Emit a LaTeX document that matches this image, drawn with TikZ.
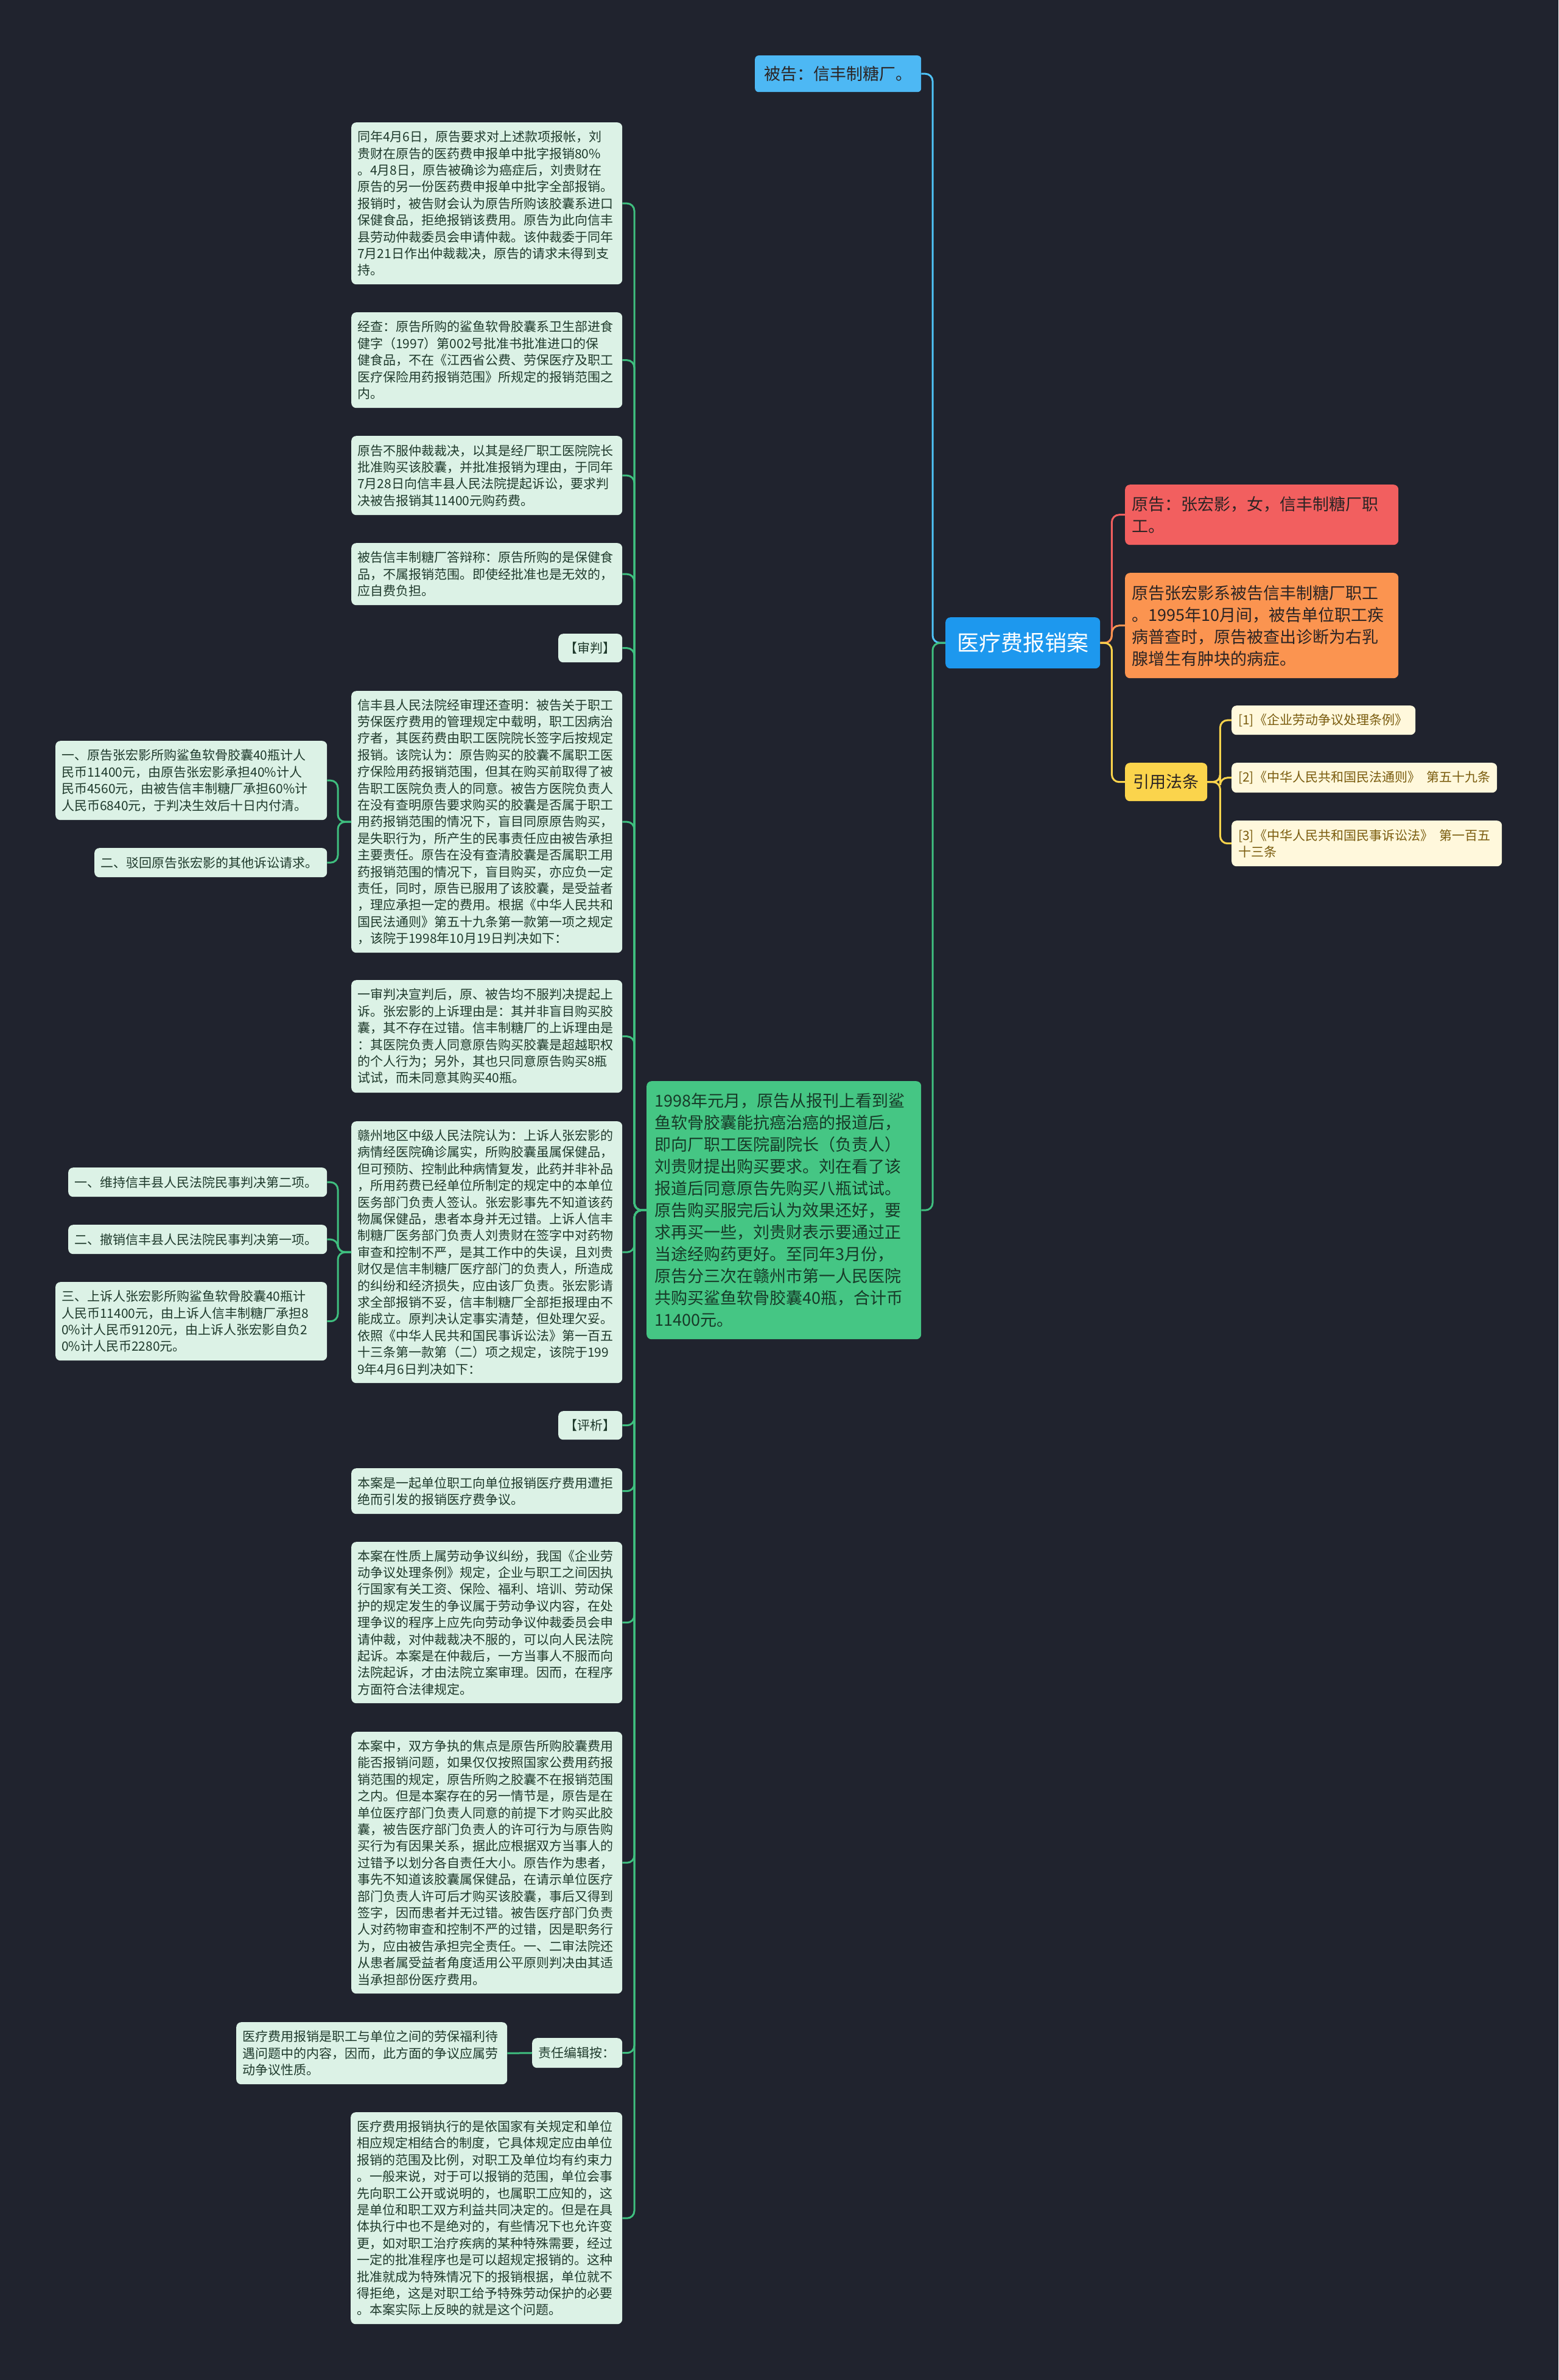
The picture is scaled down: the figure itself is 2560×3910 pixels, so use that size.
\documentclass[tikz,border=0pt]{standalone}
\usepackage{fontspec}
\newfontfamily\cjk{Noto Sans CJK SC}
\definecolor{bgc}{HTML}{20232E}
\definecolor{mint}{HTML}{DCF2E6}
\definecolor{mtext}{HTML}{1F3A2C}
\definecolor{gline}{HTML}{3FBF7F}
\definecolor{gfill}{HTML}{45C684}
\definecolor{gtext}{HTML}{173A28}
\definecolor{rootc}{HTML}{1D98EE}
\definecolor{bgfill}{HTML}{4DB8F4}
\definecolor{bline}{HTML}{4FC3F7}
\definecolor{redc}{HTML}{F25F5F}
\definecolor{orangec}{HTML}{FB9450}
\definecolor{yellowc}{HTML}{FBD44C}
\definecolor{reffill}{HTML}{FFF8DC}
\definecolor{reftext}{HTML}{7A5C0E}
\definecolor{darktext}{HTML}{2B2424}
\begin{document}
\begin{tikzpicture}[x=1pt,y=-1pt,
  base/.style={anchor=north west, rounded corners=8pt, inner ysep=0pt, align=left},
  smallf/.style={font=\cjk\fontsize{21pt}{27.4pt}\selectfont},
  bigf/.style={font=\cjk\fontsize{27pt}{36pt}\selectfont},
  mintbox/.style={base, smallf, fill=mint, text=mtext, inner xsep=10pt},
  refbox/.style={base, smallf, fill=reffill, text=reftext, inner xsep=11pt},
  conn/.style={line width=3pt, rounded corners=12pt},
]
\useasboundingbox (0,0) rectangle (2560,3910);
\fill[bgc] (0,0) rectangle (2560,3910);

% ---------- central and right side ----------
\node[base, font=\cjk\fontsize{36pt}{44pt}\selectfont, fill=rootc, text=white, align=center,
  minimum width=254pt, minimum height=84pt, inner xsep=0pt] (root) at (1553,1014) {医疗费报销案};

\node[base, bigf, fill=bgfill, text=darktext, align=center, rounded corners=6pt,
  minimum width=273pt, minimum height=60pt, inner xsep=0pt] (bg) at (1240,91) {被告：信丰制糖厂。};

\node[base, bigf, fill=redc, text=darktext, inner xsep=11pt, text width=427pt, minimum height=99pt] (r1) at (1848,796)
{原告：张宏影，女，信丰制糖厂职\\工。};

\node[base, bigf, fill=orangec, text=darktext, inner xsep=11pt, text width=427pt, minimum height=173pt] (r2) at (1848,941)
{原告张宏影系被告信丰制糖厂职工\\。1995年10月间，被告单位职工疾\\病普查时，原告被查出诊断为右乳\\腺增生有肿块的病症。};

\node[base, bigf, fill=yellowc, text=darktext, align=center, minimum width=135pt, minimum height=63pt, inner xsep=0pt] (law) at (1848,1253) {引用法条};

\node[refbox, text width=280pt, minimum height=48pt] (ref1) at (2023,1159) {[1]《企业劳动争议处理条例》};
\node[refbox, text width=414pt, minimum height=49pt] (ref2) at (2023,1253) {\mbox{[2]《中华人民共和国民法通则》\hspace{0.5em}第五十九条}};
\node[refbox, text width=422pt, minimum height=75pt] (ref3) at (2023,1348) {\mbox{[3]《中华人民共和国民事诉讼法》\hspace{0.5em}第一百五}\\十三条};

\node[base, bigf, fill=gfill, text=gtext, inner xsep=13pt, text width=425pt, minimum height=424pt] (green) at (1062,1776)
{1998年元月，原告从报刊上看到鲨\\鱼软骨胶囊能抗癌治癌的报道后，\\即向厂职工医院副院长（负责人）\\刘贵财提出购买要求。刘在看了该\\报道后同意原告先购买八瓶试试。\\原告购买服完后认为效果还好，要\\求再买一些，刘贵财表示要通过正\\当途经购药更好。至同年3月份，\\原告分三次在赣州市第一人民医院\\共购买鲨鱼软骨胶囊40瓶，合计币\\11400元。};

% ---------- column ----------
\node[mintbox, text width=425pt, minimum height=266pt] (n1) at (577,201)
{同年4月6日，原告要求对上述款项报帐，刘\\贵财在原告的医药费申报单中批字报销80\%\\。4月8日，原告被确诊为癌症后，刘贵财在\\原告的另一份医药费申报单中批字全部报销。\\报销时，被告财会认为原告所购该胶囊系进口\\保健食品，拒绝报销该费用。原告为此向信丰\\县劳动仲裁委员会申请仲裁。该仲裁委于同年\\7月21日作出仲裁裁决，原告的请求未得到支\\持。};

\node[mintbox, text width=425pt, minimum height=157pt] (n2) at (577,513)
{经查：原告所购的鲨鱼软骨胶囊系卫生部进食\\健字（1997）第002号批准书批准进口的保\\健食品，不在《江西省公费、劳保医疗及职工\\医疗保险用药报销范围》所规定的报销范围之\\内。};

\node[mintbox, text width=425pt, minimum height=130pt] (n3) at (577,716)
{原告不服仲裁裁决，以其是经厂职工医院院长\\批准购买该胶囊，并批准报销为理由，于同年\\7月28日向信丰县人民法院提起诉讼，要求判\\决被告报销其11400元购药费。};

\node[mintbox, text width=425pt, minimum height=102pt] (n4) at (577,892)
{被告信丰制糖厂答辩称：原告所购的是保健食\\品，不属报销范围。即使经批准也是无效的，\\应自费负担。};

\node[mintbox, align=center, minimum width=105pt, minimum height=47pt, inner xsep=0pt] (sp) at (917,1041) {【审判】};

\node[mintbox, text width=425pt, minimum height=430pt] (n5) at (577,1135)
{信丰县人民法院经审理还查明：被告关于职工\\劳保医疗费用的管理规定中载明，职工因病治\\疗者，其医药费由职工医院院长签字后按规定\\报销。该院认为：原告购买的胶囊不属职工医\\疗保险用药报销范围，但其在购买前取得了被\\告职工医院负责人的同意。被告方医院负责人\\在没有查明原告要求购买的胶囊是否属于职工\\用药报销范围的情况下，盲目同原原告购买，\\是失职行为，所产生的民事责任应由被告承担\\主要责任。原告在没有查清胶囊是否属职工用\\药报销范围的情况下，盲目购买，亦应负一定\\责任，同时，原告已服用了该胶囊，是受益者\\，理应承担一定的费用。根据《中华人民共和\\国民法通则》第五十九条第一款第一项之规定\\，该院于1998年10月19日判决如下：};

\node[mintbox, text width=426pt, minimum height=130pt] (a1) at (91,1217)
{一、原告张宏影所购鲨鱼软骨胶囊40瓶计人\\民币11400元，由原告张宏影承担40\%计人\\民币4560元，由被告信丰制糖厂承担60\%计\\人民币6840元，于判决生效后十日内付清。};

\node[mintbox, text width=362pt, minimum height=48pt] (a2) at (155,1393)
{二、驳回原告张宏影的其他诉讼请求。};

\node[mintbox, text width=425pt, minimum height=185pt] (n6) at (577,1610)
{一审判决宣判后，原、被告均不服判决提起上\\诉。张宏影的上诉理由是：其并非盲目购买胶\\囊，其不存在过错。信丰制糖厂的上诉理由是\\：其医院负责人同意原告购买胶囊是超越职权\\的个人行为；另外，其也只同意原告购买8瓶\\试试，而未同意其购买40瓶。};

\node[mintbox, text width=425pt, minimum height=430pt] (n7) at (577,1842)
{赣州地区中级人民法院认为：上诉人张宏影的\\病情经医院确诊属实，所购胶囊虽属保健品，\\但可预防、控制此种病情复发，此药并非补品\\，所用药费已经单位所制定的规定中的本单位\\医务部门负责人签认。张宏影事先不知道该药\\物属保健品，患者本身并无过错。上诉人信丰\\制糖厂医务部门负责人刘贵财在签字中对药物\\审查和控制不严，是其工作中的失误，且刘贵\\财仅是信丰制糖厂医疗部门的负责人，所造成\\的纠纷和经济损失，应由该厂负责。张宏影请\\求全部报销不妥，信丰制糖厂全部拒报理由不\\能成立。原判决认定事实清楚，但处理欠妥。\\依照《中华人民共和国民事诉讼法》第一百五\\十三条第一款第（二）项之规定，该院于199\\9年4月6日判决如下：};

\node[mintbox, text width=405pt, minimum height=48pt] (b1) at (112,1918)
{一、维持信丰县人民法院民事判决第二项。};
\node[mintbox, text width=405pt, minimum height=48pt] (b2) at (112,2012)
{二、撤销信丰县人民法院民事判决第一项。};
\node[mintbox, text width=426pt, minimum height=129pt] (b3) at (91,2106)
{三、上诉人张宏影所购鲨鱼软骨胶囊40瓶计\\人民币11400元，由上诉人信丰制糖厂承担8\\0\%计人民币9120元，由上诉人张宏影自负2\\0\%计人民币2280元。};

\node[mintbox, align=center, minimum width=105pt, minimum height=47pt, inner xsep=0pt] (px) at (917,2318) {【评析】};

\node[mintbox, text width=425pt, minimum height=75pt] (n8) at (577,2412)
{本案是一起单位职工向单位报销医疗费用遭拒\\绝而引发的报销医疗费争议。};

\node[mintbox, text width=425pt, minimum height=265pt] (n9) at (577,2533)
{本案在性质上属劳动争议纠纷，我国《企业劳\\动争议处理条例》规定，企业与职工之间因执\\行国家有关工资、保险、福利、培训、劳动保\\护的规定发生的争议属于劳动争议内容，在处\\理争议的程序上应先向劳动争议仲裁委员会申\\请仲裁，对仲裁裁决不服的，可以向人民法院\\起诉。本案是在仲裁后，一方当事人不服而向\\法院起诉，才由法院立案审理。因而，在程序\\方面符合法律规定。};

\node[mintbox, text width=425pt, minimum height=430pt] (n10) at (577,2845)
{本案中，双方争执的焦点是原告所购胶囊费用\\能否报销问题，如果仅仅按照国家公费用药报\\销范围的规定，原告所购之胶囊不在报销范围\\之内。但是本案存在的另一情节是，原告是在\\单位医疗部门负责人同意的前提下才购买此胶\\囊，被告医疗部门负责人的许可行为与原告购\\买行为有因果关系，据此应根据双方当事人的\\过错予以划分各自责任大小。原告作为患者，\\事先不知道该胶囊属保健品，在请示单位医疗\\部门负责人许可后才购买该胶囊，事后又得到\\签字，因而患者并无过错。被告医疗部门负责\\人对药物审查和控制不严的过错，因是职务行\\为，应由被告承担完全责任。一、二审法院还\\从患者属受益者角度适用公平原则判决由其适\\当承担部份医疗费用。};

\node[mintbox, text width=128pt, minimum height=49pt] (ed) at (874,3348) {责任编辑按：};

\node[mintbox, text width=425pt, minimum height=102pt] (c1) at (388,3322)
{医疗费用报销是职工与单位之间的劳保福利待\\遇问题中的内容，因而，此方面的争议应属劳\\动争议性质。};

\node[mintbox, text width=426pt, minimum height=348pt] (n11) at (576,3470)
{医疗费用报销执行的是依国家有关规定和单位\\相应规定相结合的制度，它具体规定应由单位\\报销的范围及比例，对职工及单位均有约束力\\。一般来说，对于可以报销的范围，单位会事\\先向职工公开或说明的，也属职工应知的，这\\是单位和职工双方利益共同决定的。但是在具\\体执行中也不是绝对的，有些情况下也允许变\\更，如对职工治疗疾病的某种特殊需要，经过\\一定的批准程序也是可以超规定报销的。这种\\批准就成为特殊情况下的报销根据，单位就不\\得拒绝，这是对职工给予特殊劳动保护的必要\\。本案实际上反映的就是这个问题。};

% ---------- connectors ----------
\draw[conn, draw=bline] (root.west) -- ++(-21,0) |- (bg.east);
\draw[conn, draw=gline] (root.west) -- ++(-21,0) |- (green.east);
\draw[conn, draw=redc] (root.east) -- ++(19,0) |- (r1.west);
\draw[conn, draw=orangec] (root.east) -- ++(19,0) |- (r2.west);
\draw[conn, draw=yellowc] (root.east) -- ++(19,0) |- (law.west);
\foreach \r in {ref1,ref2,ref3}
  \draw[conn, draw=yellowc] (law.east) -- ++(21,0) |- (\r.west);
\foreach \n in {n1,n2,n3,n4,sp,n5,n6,n7,px,n8,n9,n10,ed,n11}
  \draw[conn, draw=gline] (green.west) -- ++(-20,0) |- (\n.east);
\foreach \n in {a1,a2}
  \draw[conn, draw=gline] (n5.west) -- ++(-22,0) |- (\n.east);
\foreach \n in {b1,b2,b3}
  \draw[conn, draw=gline] (n7.west) -- ++(-22,0) |- (\n.east);
\draw[conn, draw=gline] (ed.west) -- (c1.east);
\end{tikzpicture}
\end{document}
